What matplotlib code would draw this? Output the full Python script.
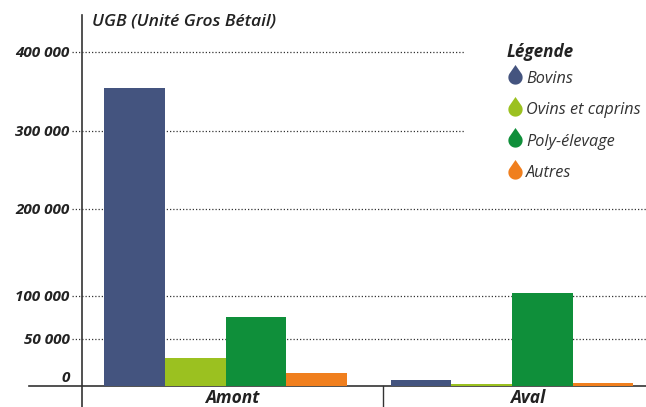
import numpy as np
import matplotlib
matplotlib.use("Agg")
from matplotlib import pyplot as plt
from matplotlib.path import Path
from matplotlib.lines import Line2D
from matplotlib.transforms import ScaledTranslation, blended_transform_factory

# data
categories = ["Amont", "Aval"]
series = ["Bovins", "Ovins et caprins", "Poly-élevage", "Autres"]
bovins = [354000, 6400]
ovins = [30000, 2000]
poly = [75600, 103400]
autres = [14000, 3200]
values = [bovins, ovins, poly, autres]
colors = ["#44547f", "#9bc120", "#0f8f3a", "#f07f1e"]

yticks = [0, 50000, 100000, 200000, 300000, 400000]
ytick_labels = ["0", "50 000", "100 000", "200 000", "300 000", "400 000"]

# the original axis is not linear: gridline heights (px above baseline)
scale_vals = [0, 50000, 100000, 200000, 300000, 400000, 500000]
scale_px = [0, 47, 90, 177, 255, 334, 413]

font = "Open Sans"
ink = "#222222"

fig = plt.figure(figsize=(6.46, 4.07), dpi=100)
ax = fig.add_axes([82/646, 21/407, 1 - 82/646, 371/407])

ax.set_yscale("function", functions=(lambda v: np.interp(v, scale_vals, scale_px),
                                     lambda p: np.interp(p, scale_px, scale_vals)))
ax.set_ylim(0, 446800)

width = 0.2115
x = np.arange(len(categories))
for i, (name, vals, c) in enumerate(zip(series, values, colors)):
    ax.bar(x + (i - 1.5) * width, vals, width, color=c, label=name, zorder=5, linewidth=0)

ax.set_xlim(-0.501, 1.468)
sep = 0.55

for s in ["top", "right", "bottom"]:
    ax.spines[s].set_visible(False)
ax.spines["left"].set_color("#333333")
ax.spines["left"].set_linewidth(1.2)

# dotted gridlines, shorter where the legend sits
ytr = ax.get_yaxis_transform()
for v in yticks[1:]:
    end = 0.679 if v >= 300000 else 1.0
    ax.plot([-0.018, end], [v, v], transform=ytr, clip_on=False,
            color="#333333", lw=0.9, ls=(0, (1, 1.6)), zorder=1)

# baseline, spine extension and category separator
ax.plot([-0.094, 1], [0, 0], transform=ytr, clip_on=False, color="#333333", lw=1.2, zorder=4)
xtr = blended_transform_factory(ax.transData, ax.transAxes)
ax.plot([sep, sep], [0, -0.06], transform=xtr, clip_on=False, color="#333333", lw=1.0)
ax.plot([0, 0], [0, -0.06], transform=ax.transAxes, clip_on=False, color="#333333", lw=1.2)

ax.set_yticks(yticks)
ax.set_yticklabels(ytick_labels, fontfamily=font, fontsize=11, fontweight="bold",
                   fontstyle="italic", color=ink)
ax.tick_params(axis="y", length=0, pad=9)
lab0 = ax.get_yticklabels()[0]
lab0.set_transform(lab0.get_transform() + ScaledTranslation(0, 10/100, fig.dpi_scale_trans))

ax.set_xticks([(-0.501 + sep) / 2, (sep + 1.56) / 2])
ax.set_xticklabels(categories, fontfamily=font, fontsize=12.5, fontweight="bold",
                   fontstyle="italic", color=ink)
ax.tick_params(axis="x", length=0, pad=2)

fig.text(92/646, 1 - 22/407, "UGB (Unité Gros Bétail)", fontfamily=font, fontsize=12.6,
         fontweight="semibold", fontstyle="italic", color=ink, va="center", ha="left")

# legend title
fig.text(507/646, 1 - 52/407, "Légende", fontfamily=font, fontsize=12.3,
         fontweight="bold", fontstyle="italic", color=ink, va="center", ha="left")

# droplet marker
t = np.linspace(np.radians(140), np.radians(400), 30)
verts = [(np.cos(a), np.sin(a)) for a in t]
verts = [(0, 1.75)] + verts + [(0, 1.75)]
drop = Path(verts, [Path.MOVETO] + [Path.LINETO] * (len(verts) - 2) + [Path.CLOSEPOLY])

handles = [Line2D([], [], marker=drop, ls="none", markersize=18, color=c, markeredgewidth=0)
           for c in colors]
leg = ax.legend(handles, series, loc="upper left", bbox_to_anchor=(509/646, 1 - 71/407),
                bbox_transform=fig.transFigure, frameon=False, handlelength=0.75,
                handletextpad=0.3, labelspacing=0.95, borderaxespad=0, borderpad=0,
                prop={"family": font, "style": "italic", "size": 11.7})
for txt in leg.get_texts():
    txt.set_color("#333333")

fig.savefig("out.png", dpi=100)
